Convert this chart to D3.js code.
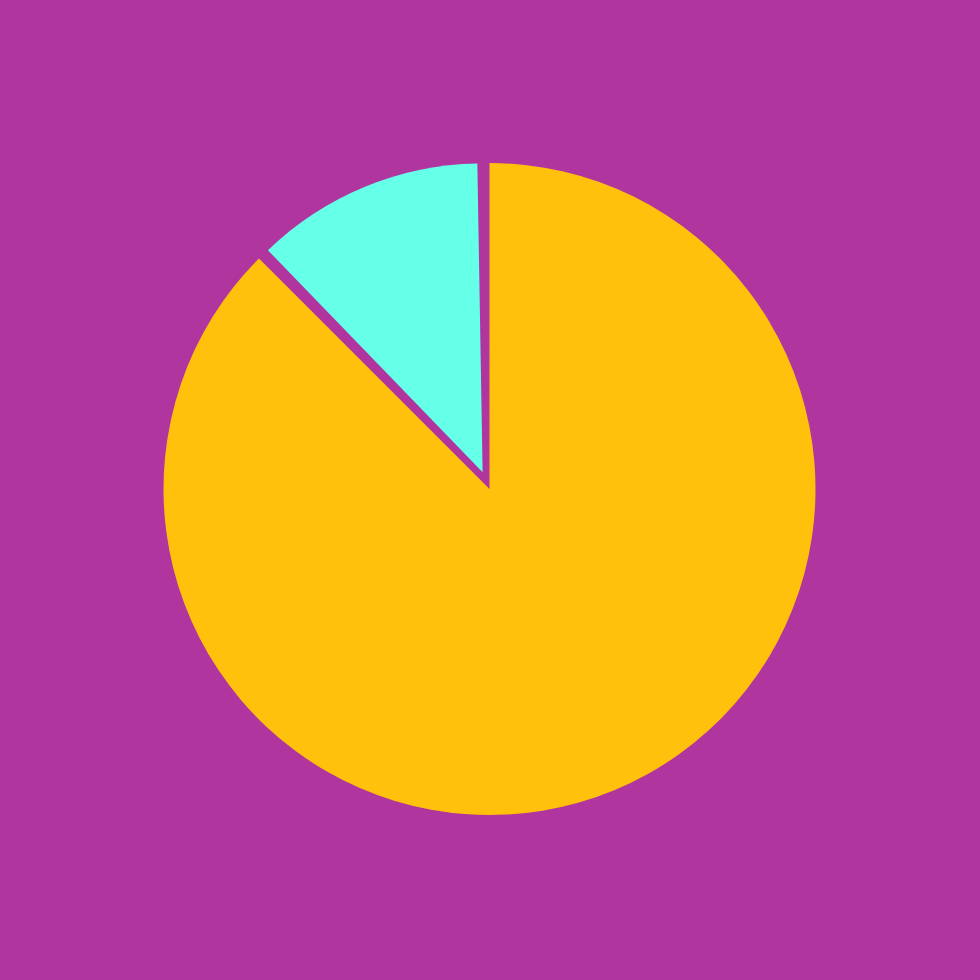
<!DOCTYPE html>
<html>
<head>
<meta charset="utf-8">
<script src="https://cdn.jsdelivr.net/npm/d3@7"></script>
<style>
  html, body { margin: 0; padding: 0; background: #B0359E; }
  svg { display: block; }
</style>
</head>
<body>
<script>
// Data
const categories = ["Major", "Minor"];
const values = [87.5, 12.5];
const colors = ["#FFC10B", "#66FFE8"];
const exploded = [false, true];

// Layout / style
const W = 980, H = 980;
const cx = 489.5, cy = 489;
const R = 326;
const explodeDist = 18;
const explodedRadius = 309;
const explodedPad = 0.034;

const svg = d3.select("body").append("svg")
  .attr("width", W).attr("height", H);

svg.append("rect").attr("width", W).attr("height", H).attr("fill", "#B0359E");

const pie = d3.pie().sort(null).value(d => d.value);
const arcs = pie(categories.map((c, i) => ({ name: c, value: values[i], color: colors[i], exploded: exploded[i] })));

const arcMain = d3.arc().innerRadius(0).outerRadius(R);
const arcExp = d3.arc().innerRadius(0).outerRadius(explodedRadius).padAngle(explodedPad);

const g = svg.append("g").attr("transform", `translate(${cx},${cy})`);

g.selectAll("path")
  .data(arcs)
  .join("path")
  .attr("fill", d => d.data.color)
  .attr("d", d => d.data.exploded ? arcExp(d) : arcMain(d))
  .attr("transform", d => {
    if (!d.data.exploded) return null;
    const mid = (d.startAngle + d.endAngle) / 2;
    return `translate(${explodeDist * Math.sin(mid)},${-explodeDist * Math.cos(mid)})`;
  });
</script>
</body>
</html>
